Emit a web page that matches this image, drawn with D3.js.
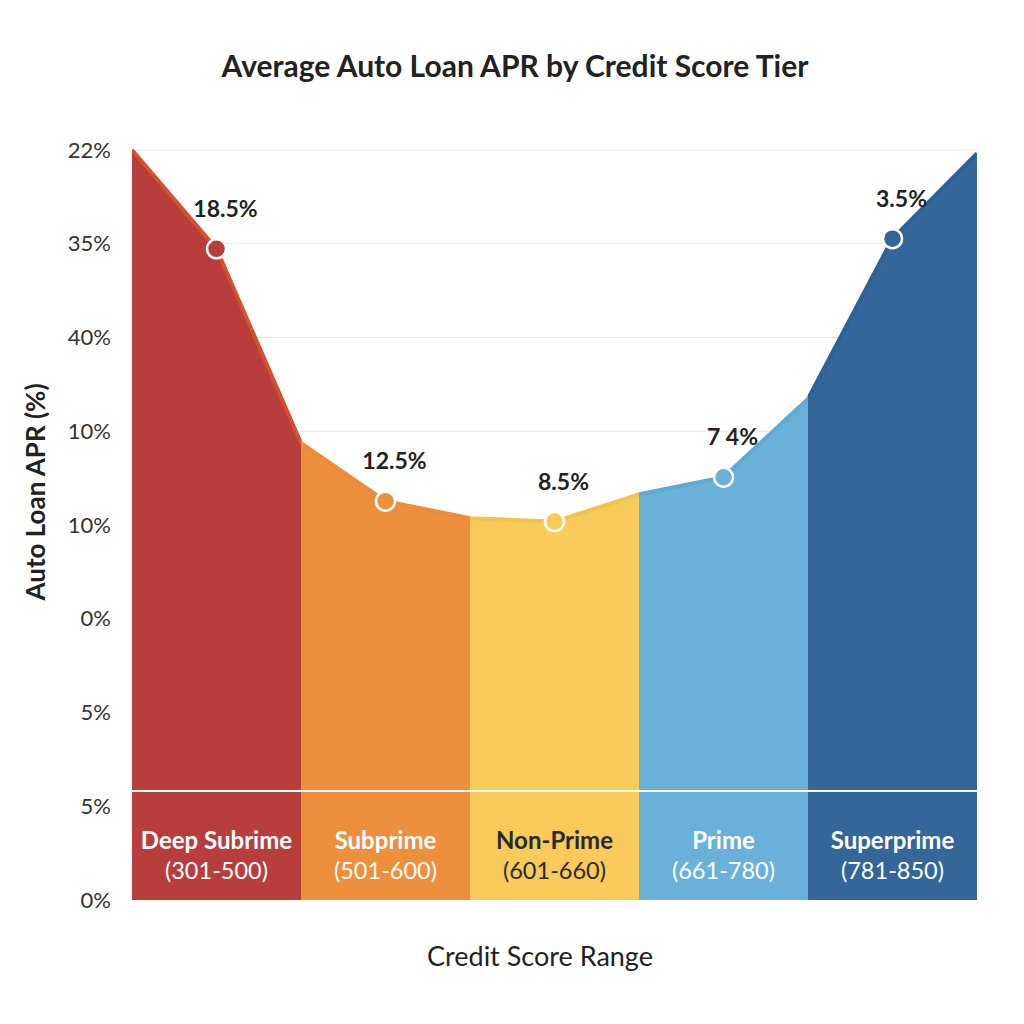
<!DOCTYPE html>
<html>
<head>
<meta charset="utf-8">
<script src="https://cdn.jsdelivr.net/npm/d3@7"></script>
<style>
  body { margin: 0; background: #fff; }
  svg { display: block; font-family: Lato, "Open Sans", sans-serif; }
</style>
</head>
<body>
<svg id="chart" width="1024" height="1024"></svg>
<script>
// tiers along the x axis
const tiers = ["Deep Subrime", "Subprime", "Non-Prime", "Prime", "Superprime"];
const ranges = ["(301-500)", "(501-600)", "(601-660)", "(661-780)", "(781-850)"];
const tierColors = ["#b83e3b", "#ee8f3d", "#f8ca5a", "#69b1d8", "#346699"];
const edgeColors = ["#d4502f", "#f08a36", "#f7c24c", "#5eaad6", "#2f6199"];
const nameColors = ["#fff", "#fff", "#2a2a2a", "#fff", "#fff"];

// curve height at each tier's centre (plot units)
const pointValues = [19.1, 11.7, 11.1, 12.4, 19.4];
const pointLabels = ["18.5%", "12.5%", "8.5%", "7 4%", "3.5%"];
// curve height at band edges: left edge, then after each tier
const edgeValues = [22, 13.4, 11.2, 11.9, 14.7, 21.9];

// y tick labels as printed, top to bottom
const tickLabels = ["22%", "35%", "40%", "10%", "10%", "0%", "5%", "5%", "0%"];

const svg = d3.select("#chart");
const plotLeft = 132, plotRight = 977, plotTop = 150, plotBottom = 900;

const x = d3.scaleBand().domain(tiers).range([plotLeft, plotRight]).padding(0);
const y = d3.scaleLinear().domain([0, 22]).range([plotBottom, plotTop]);
const tickY = d3.scalePoint().domain(d3.range(tickLabels.length)).range([plotTop, plotBottom]);

// title
svg.append("text")
  .attr("x", 515).attr("y", 77)
  .attr("text-anchor", "middle")
  .attr("font-size", 30).attr("font-weight", 700).attr("fill", "#222")
  .text("Average Auto Loan APR by Credit Score Tier");

// grid lines
svg.append("g").selectAll("line")
  .data(d3.range(tickLabels.length - 1))
  .join("line")
  .attr("x1", plotLeft).attr("x2", plotRight)
  .attr("y1", d => tickY(d)).attr("y2", d => tickY(d))
  .attr("stroke", "#e4e6e8").attr("stroke-width", 1.2);

// y axis labels
const yAxis = d3.axisLeft(tickY).tickSize(0).tickPadding(0).tickFormat(i => tickLabels[i]);
svg.append("g")
  .attr("transform", `translate(${plotLeft - 21},0)`)
  .call(yAxis)
  .call(g => g.select(".domain").remove())
  .call(g => g.selectAll("text")
    .attr("font-family", "Lato, sans-serif")
    .attr("font-size", 22).attr("fill", "#333"));

// y axis title
svg.append("text")
  .attr("transform", "translate(45,492) rotate(-90)")
  .attr("text-anchor", "middle")
  .attr("font-size", 26).attr("font-weight", 700).attr("fill", "#222")
  .text("Auto Loan APR (%)");

// curve points: edges and centres, interleaved
const curvePts = [];
tiers.forEach((t, i) => {
  curvePts.push([x(t), edgeValues[i]]);
  curvePts.push([x(t) + x.bandwidth() / 2, pointValues[i]]);
});
curvePts.push([x(tiers[tiers.length - 1]) + x.bandwidth(), edgeValues[tiers.length]]);

const area = d3.area()
  .x(d => d[0]).y0(plotBottom).y1(d => y(d[1]))
  .curve(d3.curveLinear);
const line = d3.line()
  .x(d => d[0]).y(d => y(d[1]))
  .curve(d3.curveLinear);

const defs = svg.append("defs");
tiers.forEach((t, i) => {
  defs.append("clipPath").attr("id", "clip" + i)
    .append("rect")
    .attr("x", x(t)).attr("y", 0)
    .attr("width", x.bandwidth() + (i < tiers.length - 1 ? 0.5 : 0))
    .attr("height", plotBottom);
});

const bands = svg.append("g");
tiers.forEach((t, i) => {
  const g = bands.append("g").attr("clip-path", `url(#clip${i})`);
  g.append("path").attr("d", area(curvePts)).attr("fill", tierColors[i]);
  g.append("path").attr("d", line(curvePts))
    .attr("fill", "none").attr("stroke", edgeColors[i])
    .attr("stroke-width", 4).attr("stroke-linejoin", "round");
});

// white divider above the tier names
svg.append("line")
  .attr("x1", plotLeft).attr("x2", plotRight)
  .attr("y1", 791).attr("y2", 791)
  .attr("stroke", "#fff").attr("stroke-width", 2);

// tier names and ranges
const names = svg.append("g").attr("text-anchor", "middle");
tiers.forEach((t, i) => {
  const cx = x(t) + x.bandwidth() / 2;
  names.append("text")
    .attr("x", cx).attr("y", 849)
    .attr("font-size", 24).attr("font-weight", 700).attr("fill", nameColors[i])
    .text(t);
  names.append("text")
    .attr("x", cx).attr("y", 879)
    .attr("font-size", 23.5).attr("fill", nameColors[i])
    .text(ranges[i]);
});

// points and value labels
const pts = svg.append("g");
tiers.forEach((t, i) => {
  const cx = x(t) + x.bandwidth() / 2;
  const cy = y(pointValues[i]);
  pts.append("circle")
    .attr("cx", cx).attr("cy", cy).attr("r", 9.5)
    .attr("fill", tierColors[i]).attr("stroke", "#fff").attr("stroke-width", 2.5);
  pts.append("text")
    .attr("x", cx + 9).attr("y", cy - 32)
    .attr("text-anchor", "middle")
    .attr("font-size", 23).attr("font-weight", 700).attr("fill", "#222")
    .text(pointLabels[i]);
});

// x axis title
svg.append("text")
  .attr("x", 540).attr("y", 966)
  .attr("text-anchor", "middle")
  .attr("font-size", 27).attr("fill", "#222")
  .text("Credit Score Range");
</script>
</body>
</html>
